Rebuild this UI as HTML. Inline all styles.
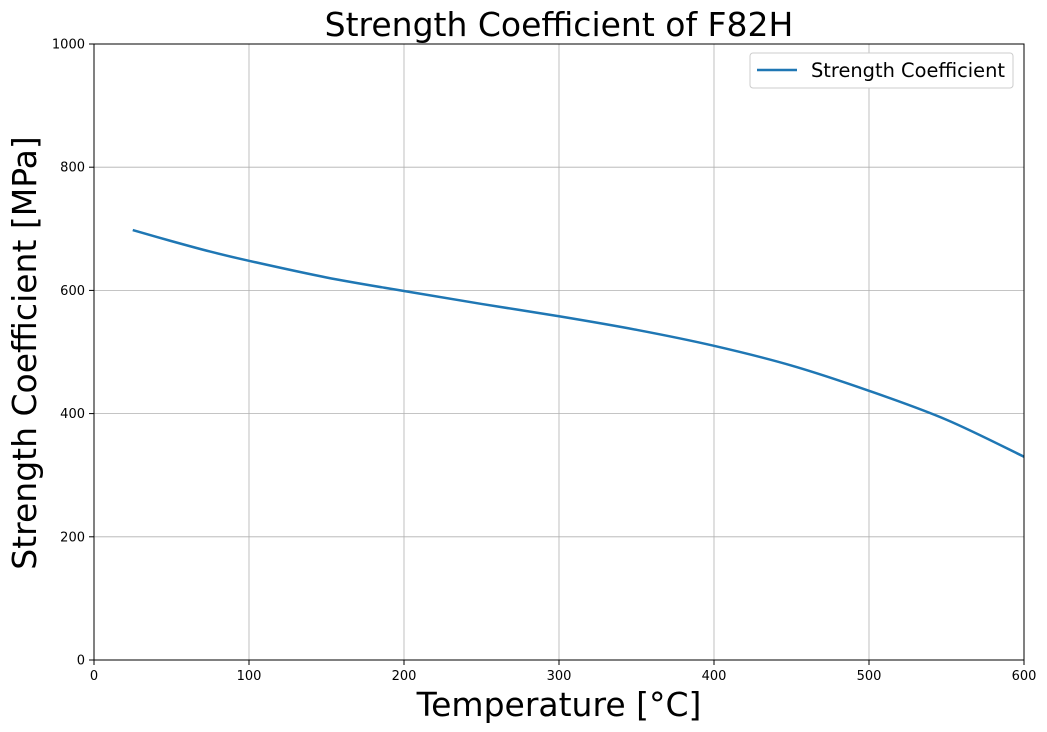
<!DOCTYPE html>
<html><head><meta charset="utf-8"><style>
body{margin:0;background:#fff;}
svg{display:block;font-family:"DejaVu Sans","Liberation Sans",sans-serif;}
</style></head><body>
<svg id="chart" width="1047" height="732">
<rect width="1047" height="732" fill="#fff"/>
<g id="grid"></g>
<g id="ticks"></g>
<path id="line" fill="none" stroke="#1f77b4" stroke-width="2.5"/>
<rect x="94" y="44" width="930" height="616" fill="none" stroke="#000" stroke-width="1"/>
<text x="559" y="36" font-size="33" text-anchor="middle">Strength Coefficient of F82H</text>
<text x="559" y="716" font-size="33" text-anchor="middle">Temperature [°C]</text>
<text transform="translate(36,353) rotate(-90)" font-size="33" text-anchor="middle">Strength Coefficient [MPa]</text>
<g>
<rect x="750" y="53" width="263" height="35" rx="3" fill="#fff" stroke="#ccc"/>
<line x1="757" y1="70" x2="797" y2="70" stroke="#1f77b4" stroke-width="2.5"/>
<text x="811" y="77" font-size="19.4">Strength Coefficient</text>
</g>
</svg>
<script>
const xTicks=[0,100,200,300,400,500,600];
const yTicks=[0,200,400,600,800,1000];
const temps=[25,50,75,100,150,200,250,300,350,400,450,500,550,600];
const values=[698,680,663,648,621,599,578,558,536,510,478,437,390,330];
const X=v=>94+v/600*930, Y=v=>660-v/1000*616;
const ns="http://www.w3.org/2000/svg";
const grid=document.getElementById('grid'), ticks=document.getElementById('ticks');
function mk(p,tag,a){const e=document.createElementNS(ns,tag);for(const k in a)e.setAttribute(k,a[k]);p.appendChild(e);return e;}
xTicks.forEach(t=>{
 const g=mk(grid,'line',{x1:X(t),x2:X(t),y1:44,y2:660,stroke:'#b0b0b0','stroke-width':0.8});
 
 
 const tk=mk(ticks,'line',{x1:X(t),x2:X(t),y1:660,y2:665,stroke:'#000'});
 
 
 const l=mk(ticks,'text',{x:X(t),y:680,'font-size':13,'text-anchor':'middle'});l.textContent=t;
 
 
});
yTicks.forEach(t=>{
 const g=mk(grid,'line',{x1:94,x2:1024,y1:Y(t),y2:Y(t),stroke:'#b0b0b0','stroke-width':0.8});
 
 
 const tk=mk(ticks,'line',{x1:89,x2:94,y1:Y(t),y2:Y(t),stroke:'#000'});
 
 
 const l=mk(ticks,'text',{x:85,y:Y(t)+4.5,'font-size':13,'text-anchor':'end'});l.textContent=t;
 
 
});
const P=temps.map((t,i)=>[X(t),Y(values[i])]);
let d='M'+P[0][0]+','+P[0][1];
for(let i=0;i<P.length-1;i++){
 const p0=P[Math.max(0,i-1)],p1=P[i],p2=P[i+1],p3=P[Math.min(P.length-1,i+2)];
 const c1=[p1[0]+(p2[0]-p0[0])/6,p1[1]+(p2[1]-p0[1])/6];
 const c2=[p2[0]-(p3[0]-p1[0])/6,p2[1]-(p3[1]-p1[1])/6];
 d+=` C${c1[0]},${c1[1]} ${c2[0]},${c2[1]} ${p2[0]},${p2[1]}`;
}
document.getElementById('line').setAttribute('d',d);
</script>
</body></html>
